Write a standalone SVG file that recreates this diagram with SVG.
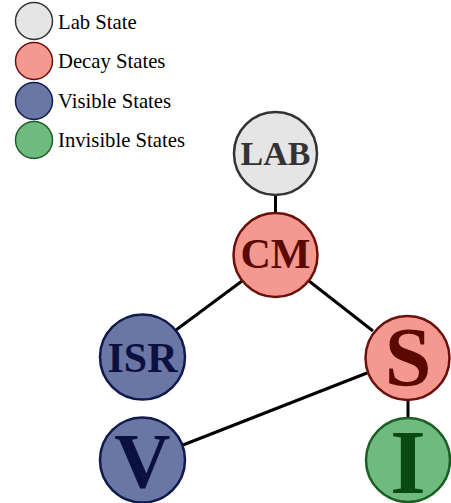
<svg xmlns="http://www.w3.org/2000/svg" width="451" height="503" viewBox="0 0 451 503">
<style>
.lab{fill:#e5e5e5;stroke:#333333}
.dec{fill:#f4998f;stroke:#6b0f0a}
.vis{fill:#6a76a3;stroke:#0f1a4f}
.inv{fill:#6fba7f;stroke:#1a5e25}
.node circle{stroke-width:2.5}
.leg circle{stroke-width:1.5}
.leg text{font-family:"Liberation Serif",serif;font-size:20.7px;fill:#000}
.node text{font-family:"Liberation Serif",serif;font-weight:bold;text-anchor:middle}
.edges line{stroke:#000;stroke-width:3}
</style>
<g id="legend" class="leg">
<circle class="lab" cx="34" cy="21" r="18.5"/><text x="58" y="29">Lab State</text>
<circle class="dec" cx="34" cy="61" r="18.5"/><text x="58" y="68">Decay States</text>
<circle class="vis" cx="34" cy="101" r="18.5"/><text x="58" y="108">Visible States</text>
<circle class="inv" cx="34" cy="140" r="18.5"/><text x="58" y="147">Invisible States</text>
</g>
<g class="edges" id="edges">
<line x1="275.5" y1="195" x2="275.5" y2="213"/>
<line x1="242" y1="281" x2="176" y2="330"/>
<line x1="309" y1="281" x2="373" y2="331"/>
<line x1="367" y1="373" x2="183" y2="445"/>
<line x1="408" y1="400" x2="408" y2="418"/>
</g>
<g id="LAB" class="node"><circle class="lab" cx="275.5" cy="153.5" r="41.5"/><text x="275.5" y="165" font-size="34" fill="#333333">LAB</text></g>
<g id="CM" class="node"><circle class="dec" cx="275.5" cy="255" r="42"/><text x="275.5" y="268" font-size="42" fill="#5a0800">CM</text></g>
<g id="ISR" class="node"><circle class="vis" cx="142.5" cy="357" r="42.5"/><text x="142.5" y="372" font-size="42" fill="#0a1040">ISR</text></g>
<g id="S" class="node"><circle class="dec" cx="407.5" cy="358" r="42"/><text x="408" y="386" font-size="84" fill="#5a0800">S</text></g>
<g id="V" class="node"><circle class="vis" cx="142.5" cy="460" r="42.5"/><text x="142.5" y="487" font-size="78" fill="#0a1040">V</text></g>
<g id="I" class="node"><circle class="inv" cx="408" cy="460" r="42"/><text x="408" y="493" font-size="92" fill="#0a4a10">I</text></g>
</svg>
